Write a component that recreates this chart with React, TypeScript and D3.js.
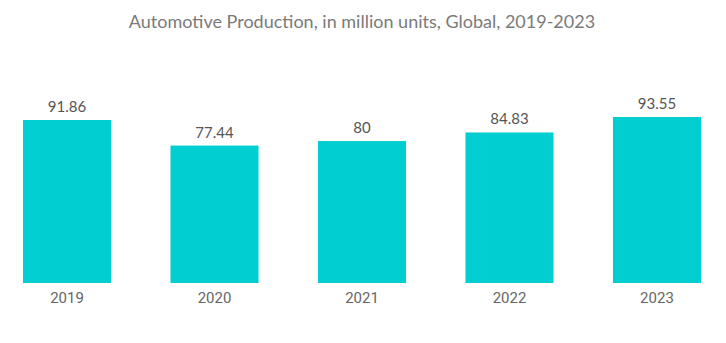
import React, { useEffect, useRef } from "react";
import * as d3 from "d3";

const categories = ["2019", "2020", "2021", "2022", "2023"];
const values = [91.86, 77.44, 80, 84.83, 93.55];
const labels = ["91.86", "77.44", "80", "84.83", "93.55"];
const title = "Automotive Production, in million units, Global, 2019-2023";

const W = 726;
const H = 343;

export default function App() {
  const ref = useRef<SVGSVGElement>(null);
  useEffect(() => {
    const svg = d3.select(ref.current);
    svg.selectAll("*").remove();
    const x = d3.scaleBand().domain(categories).range([23, 701]).paddingInner(0.403).paddingOuter(0);
    const baseline = 283;
    const pxPerUnit = 1.7745;
    const y = d3.scaleLinear().domain([0, 100]).range([baseline, baseline - 100 * pxPerUnit]);

    svg.append("text")
      .attr("x", 362)
      .attr("y", 28)
      .attr("text-anchor", "middle")
      .attr("font-family", "Lato, 'Open Sans', sans-serif")
      .attr("font-size", 18)
      .attr("fill", "#7a7a7a")
      .text(title);

    const g = svg.append("g");
    g.selectAll("rect")
      .data(values)
      .join("rect")
      .attr("x", (_, i) => x(categories[i])!)
      .attr("width", x.bandwidth())
      .attr("y", (d) => y(d))
      .attr("height", (d) => baseline - y(d))
      .attr("fill", "#00CED1");

    g.selectAll("text.val")
      .data(values)
      .join("text")
      .attr("class", "val")
      .attr("x", (_, i) => x(categories[i])! + x.bandwidth() / 2)
      .attr("y", (d) => y(d) - 8)
      .attr("text-anchor", "middle")
      .attr("font-family", "Lato, 'Open Sans', sans-serif")
      .attr("font-size", 15)
      .attr("fill", "#555")
      .text((_, i) => labels[i]);

    const axis = d3.axisBottom(x).tickSize(0).tickPadding(0);
    const ax = svg.append("g").attr("transform", `translate(0,${baseline})`).call(axis);
    ax.select(".domain").remove();
    ax.selectAll("text")
      .attr("y", 20)
      .attr("dy", 0)
      .attr("font-family", "Roboto, sans-serif")
      .attr("font-weight", 400)
      .attr("font-size", 15)
      .attr("fill", "#666");
  }, []);
  return (
    <svg
      ref={ref}
      width={W}
      height={H}
      style={{ position: "absolute", left: 0, top: 0, background: "#fff" }}
    />
  );
}
